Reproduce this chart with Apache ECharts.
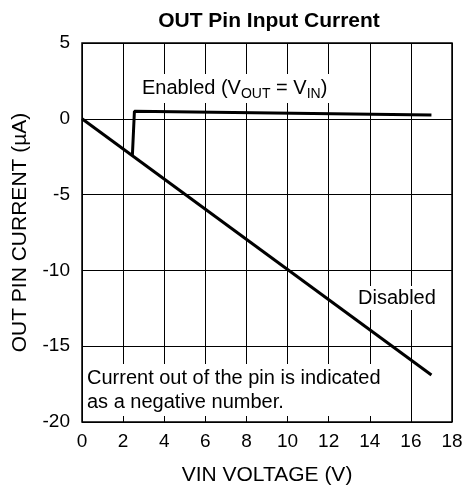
<!DOCTYPE html>
<html>
<head>
<meta charset="utf-8">
<script src="https://cdn.jsdelivr.net/npm/echarts@6/dist/echarts.min.js"></script>
<style>
  html, body { margin: 0; padding: 0; background: #fff; }
  #chart { width: 464px; height: 487px; }
</style>
</head>
<body>
<div id="chart"></div>
<script>
const disabledPts = [[0, 0], [17, -16.9]]
const enabledPts = [[2.45, -2.45], [2.55, 0.5], [17, 0.25]]
const xTicks = { min: 0, max: 18, interval: 2 }
const yTicks = { min: -20, max: 5, interval: 5 }

const font = 'Liberation Sans, Arial, sans-serif'
const chart = echarts.init(document.getElementById('chart'))

chart.setOption({
  backgroundColor: '#fff',
  animation: false,
  title: {
    text: 'OUT Pin Input Current',
    left: 264,
    textAlign: 'center',
    top: 6,
    textStyle: { fontFamily: font, fontSize: 21, fontWeight: 'bold', color: '#000' }
  },
  grid: {
    left: 82, right: 12, top: 43, bottom: 65,
    containLabel: false, outerBoundsMode: 'none',
    show: true, borderColor: '#000', borderWidth: 1.5
  },
  xAxis: {
    type: 'value',
    min: xTicks.min, max: xTicks.max, interval: xTicks.interval,
    name: 'VIN VOLTAGE (V)',
    nameLocation: 'middle',
    nameGap: 43,
    nameTextStyle: { fontFamily: font, fontSize: 21, color: '#000' },
    axisLine: { show: false },
    axisTick: { show: false },
    axisLabel: { fontFamily: font, fontSize: 19, color: '#000', margin: 10 },
    splitLine: { lineStyle: { color: '#000', width: 1 } }
  },
  yAxis: {
    type: 'value',
    min: yTicks.min, max: yTicks.max, interval: yTicks.interval,
    name: 'OUT PIN CURRENT (µA)',
    nameLocation: 'middle',
    nameGap: 51,
    nameTextStyle: { fontFamily: font, fontSize: 21, color: '#000' },
    axisLine: { show: false },
    axisTick: { show: false },
    axisLabel: { fontFamily: font, fontSize: 19, color: '#000', margin: 12 },
    splitLine: { lineStyle: { color: '#000', width: 1 } }
  },
  series: [
    {
      name: 'Disabled', type: 'line', data: disabledPts, showSymbol: false,
      lineStyle: { color: '#000', width: 3 }, z: 3
    },
    {
      name: 'Enabled', type: 'line', data: enabledPts, showSymbol: false,
      lineStyle: { color: '#000', width: 3 }, z: 3
    }
  ],
  graphic: [
    {
      type: 'text', left: 139, top: 74, z: 10,
      style: {
        text: 'Enabled (V{sub|OUT} = V{sub|IN})',
        font: '20px ' + font, fill: '#000',
        backgroundColor: '#fff', padding: [2, 3, 2, 3],
        rich: { sub: { fontSize: 14, fontFamily: font, fill: '#000', padding: [11, 0, 0, 0] } }
      }
    },
    {
      type: 'text', left: 355, top: 286, z: 10,
      style: {
        text: 'Disabled', font: '20px ' + font, fill: '#000',
        backgroundColor: '#fff', padding: [2, 3, 2, 3]
      }
    },
    {
      type: 'text', left: 84, top: 364, z: 10,
      style: {
        text: 'Current out of the pin is indicated\nas a negative number.',
        font: '20px ' + font, fill: '#000', lineHeight: 24,
        backgroundColor: '#fff', padding: [2, 4, 2, 3]
      }
    }
  ]
})
</script>
</body>
</html>
